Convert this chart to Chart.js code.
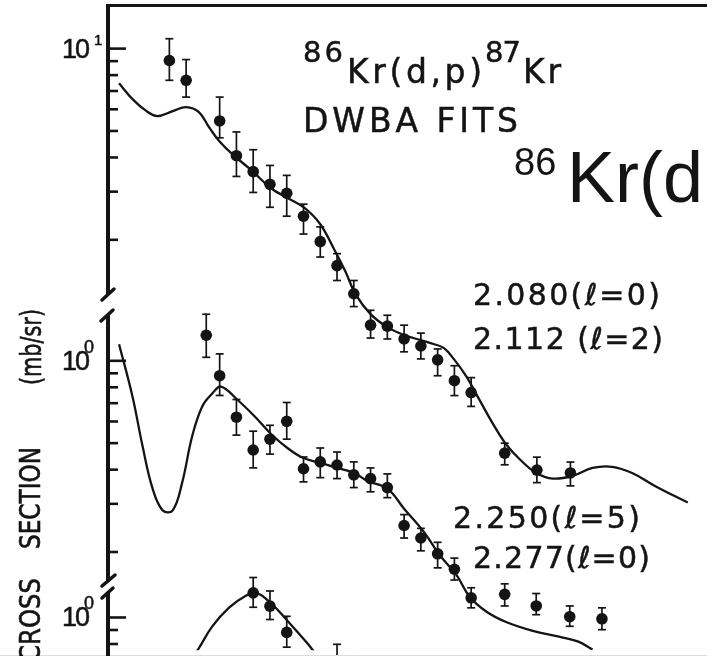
<!DOCTYPE html>
<html>
<head>
<meta charset="utf-8">
<title>86Kr(d,p)87Kr DWBA fits</title>
<script src="https://cdn.jsdelivr.net/npm/chart.js@4.4.1/dist/chart.umd.min.js"></script>
<style>
  html, body { margin: 0; padding: 0; background: #fff; overflow: hidden; }
  canvas { display: block; }
</style>
</head>
<body>
<canvas id="chart" width="707" height="656"></canvas>
<script>
// ---- Data: c.m. angle (deg) and cross section (mb/sr) ----

// 2.080 (l=0) + 2.112 (l=2) doublet
const angA   = [7.5, 10, 15, 17.5, 20, 22.5, 25, 27.5, 30, 32.5, 35, 37.5, 40, 42.5, 45, 47.5, 50, 52.5, 57.5, 62.3, 67.3];
const sigA   = [9.05, 7.66, 5.44, 4.06, 3.55, 3.19, 2.96, 2.44, 1.97, 1.61, 1.27, 0.975, 0.967, 0.868, 0.818, 0.728, 0.611, 0.553, 0.332, 0.288, 0.281];
const sigALo = [7.66, 6.65, 4.72, 3.41, 2.98, 2.63, 2.44, 2.10, 1.73, 1.42, 1.14, 0.875, 0.868, 0.779, 0.734, 0.637, 0.539, 0.492, 0.301, 0.259, 0.252];
const sigAHi = [10.87, 9.12, 6.65, 4.96, 4.27, 3.74, 3.44, 2.70, 2.23, 1.78, 1.42, 1.105, 1.06, 0.975, 0.912, 0.798, 0.693, 0.627, 0.361, 0.321, 0.308];
const fitAngA = [0, 2.0, 4.1, 5.7, 8.0, 10.0, 11.9, 13.4, 14.9, 16.8, 19.8, 22.7, 25.2, 27.7, 30.0, 32.2, 33.7, 35.3, 37.5, 40.0, 42.5, 44.9, 46.9, 48.4, 49.9, 51.8, 53.7, 55.8, 57.7, 59.7, 62.2, 64.7, 67.6, 70.6, 73.5, 76.5, 79.9, 84.8];
const fitA    = [7.47, 6.54, 5.91, 5.67, 5.91, 6.11, 5.86, 5.17, 4.60, 4.13, 3.58, 3.08, 2.84, 2.61, 2.28, 1.82, 1.54, 1.26, 1.07, 0.959, 0.897, 0.861, 0.832, 0.805, 0.734, 0.632, 0.522, 0.423, 0.358, 0.316, 0.281, 0.268, 0.274, 0.293, 0.296, 0.281, 0.252, 0.219];

// 2.250 (l=5) + 2.277 (l=0) doublet
const angB   = [13.0, 15, 17.5, 20, 22.5, 25, 27.5, 30, 32.5, 35, 37.5, 40, 42.5, 45, 47.5, 50, 52.5, 57.5, 62.2, 67.2, 72.0];
const sigB   = [1.24, 0.882, 0.622, 0.472, 0.517, 0.601, 0.403, 0.427, 0.416, 0.383, 0.371, 0.344, 0.250, 0.225, 0.197, 0.173, 0.136, 0.140, 0.127, 0.116, 0.114];
const sigBLo = [1.03, 0.747, 0.535, 0.406, 0.456, 0.517, 0.361, 0.374, 0.371, 0.344, 0.332, 0.316, 0.225, 0.202, 0.175, 0.158, 0.125, 0.127, 0.118, 0.107, 0.104];
const sigBHi = [1.48, 1.06, 0.722, 0.553, 0.581, 0.704, 0.445, 0.480, 0.464, 0.427, 0.406, 0.386, 0.274, 0.244, 0.217, 0.190, 0.148, 0.153, 0.141, 0.127, 0.125];
const fitAngB = [0, 2.0, 3.5, 5.0, 6.5, 8.0, 9.4, 10.9, 12.4, 13.9, 15.2, 17.6, 20.2, 22.7, 25.1, 27.4, 30.1, 32.5, 35.0, 37.0, 40.0, 42.5, 45.5, 47.8, 50.3, 52.3, 54.8, 57.7, 61.7, 65.6, 68.5, 70.6];
const fitB    = [1.15, 0.741, 0.488, 0.341, 0.284, 0.284, 0.358, 0.530, 0.681, 0.759, 0.805, 0.722, 0.627, 0.539, 0.480, 0.442, 0.423, 0.406, 0.390, 0.364, 0.341, 0.288, 0.236, 0.195, 0.165, 0.137, 0.121, 0.111, 0.103, 0.098, 0.094, 0.088];

// lowest group
const angC   = [20, 22.5, 25, 32.5];
const sigC   = [1.23, 1.10, 0.882, 0.705];
const sigCLo = [1.09, 0.983, 0.779, 0.62];
const sigCHi = [1.40, 1.25, 1.01, 0.798];
const fitAngC = [11.5, 11.9, 13.9, 16.4, 18.9, 20.4, 22.7, 25.2, 28.2, 29.1];
const fitC    = [0.747, 0.772, 0.928, 1.087, 1.201, 1.232, 1.124, 0.967, 0.798, 0.747];

// tick values of each axis segment (the decade value gets a label)
const ticksA = [2, 3, 4, 5, 6, 7, 8, 9, 10];
const ticksB = [0.2, 0.3, 0.4, 0.5, 0.6, 0.7, 0.8, 0.9, 1];
const ticksC = [0.7, 0.8, 0.9, 1];
const tickLabels = { yA: ['10', '1'], yB: ['10', '0'], yC: ['10', '0'] };

// ---- Layout ----
const INK = '#141414';
const LETTER = '"DejaVu Sans", Verdana, sans-serif';
const PLAIN = '"Liberation Sans", Arial, Helvetica, sans-serif';
const AREA = { left: 108, top: 7, right: 707, bottom: 656 };
const DECADE = 276;               // px per decade on every log segment

// log axis range so that `value` lands at pixel `px`
function logRange(value, px) {
  const top = Math.log10(value) + (px - AREA.top) / DECADE;
  const bottom = top - (AREA.bottom - AREA.top) / DECADE;
  return { min: Math.pow(10, bottom), max: Math.pow(10, top) };
}
const rA = logRange(10, 49);
const rB = logRange(1, 364);
const rC = logRange(1, 623);

const pts = (xs, ys) => xs.map((x, i) => ({ x, y: ys[i] }));

function points(xs, ys, axis) {
  return {
    data: pts(xs, ys), yAxisID: axis, showLine: false,
    pointRadius: 5.8, pointBackgroundColor: INK, pointBorderWidth: 0, borderColor: INK
  };
}
function curve(xs, ys, axis) {
  return {
    data: pts(xs, ys), yAxisID: axis, showLine: true, pointRadius: 0,
    borderColor: INK, borderWidth: 2.3, tension: 0.4, fill: false
  };
}

// lettering: letters spread to a given width, slightly heavier stroke
function spaced(ctx, str, x, base, size, width, family) {
  ctx.save();
  ctx.fillStyle = INK; ctx.strokeStyle = INK;
  ctx.font = size + 'px ' + (family || LETTER);
  ctx.letterSpacing = '0px';
  const n = [...str].length;
  const w = ctx.measureText(str).width;
  const sp = n > 1 && width ? (width - w) / (n - 1) : 0;
  ctx.letterSpacing = sp.toFixed(2) + 'px';
  ctx.fillText(str, x, base);
  ctx.lineWidth = 0.5;
  ctx.strokeText(str, x, base);
  ctx.restore();
}
// rotated word fitted to a given length (reads bottom to top)
function vertical(ctx, str, x, yStart, size, len) {
  ctx.save();
  ctx.fillStyle = INK; ctx.strokeStyle = INK;
  ctx.font = size + 'px ' + LETTER;
  const w = ctx.measureText(str).width;
  ctx.translate(x, yStart);
  ctx.rotate(-Math.PI / 2);
  ctx.scale(len / w, 1);
  ctx.fillText(str, 0, 0);
  ctx.lineWidth = 0.6;
  ctx.strokeText(str, 0, 0);
  ctx.restore();
}
function seg(ctx, x1, y1, x2, y2) {
  ctx.beginPath(); ctx.moveTo(x1, y1); ctx.lineTo(x2, y2); ctx.stroke();
}

const errorBars = {
  id: 'errorBars',
  beforeDatasetsDraw(chart) {
    const ctx = chart.ctx, xs = chart.scales.x;
    const sets = [[angA, sigALo, sigAHi, 'yA'], [angB, sigBLo, sigBHi, 'yB'], [angC, sigCLo, sigCHi, 'yC']];
    ctx.save();
    ctx.strokeStyle = INK; ctx.lineWidth = 1.7;
    for (const [a, lo, hi, id] of sets) {
      const ys = chart.scales[id];
      a.forEach((ang, i) => {
        const px = xs.getPixelForValue(ang);
        const y1 = ys.getPixelForValue(lo[i]), y2 = ys.getPixelForValue(hi[i]);
        seg(ctx, px, y1, px, y2);
        seg(ctx, px - 4, y1, px + 4, y1);
        seg(ctx, px - 4, y2, px + 4, y2);
      });
    }
    ctx.restore();
  }
};

const frame = {
  id: 'frame',
  beforeDatasetsDraw(chart) {
    const ctx = chart.ctx;
    ctx.save();
    // faint page edge at the bottom
    ctx.strokeStyle = '#dcdcdc'; ctx.lineWidth = 1;
    seg(ctx, 0, 655.5, 707, 655.5);
    ctx.strokeStyle = INK;
    // top frame line
    ctx.lineWidth = 3;
    seg(ctx, 106, 5.5, 707, 5.5);
    // broken ordinate
    ctx.lineWidth = 4;
    seg(ctx, 108, 4, 108, 294);
    seg(ctx, 108, 315, 108, 582);
    seg(ctx, 108, 593, 108, 660);
    ctx.lineCap = 'round'; ctx.lineWidth = 3.5;
    seg(ctx, 114, 289, 102, 300);
    seg(ctx, 113, 310, 101, 321);
    seg(ctx, 115, 575, 102, 586);
    seg(ctx, 113, 588, 102, 598);
    ctx.lineCap = 'butt';
    // ticks on each segment
    const groups = [['yA', ticksA], ['yB', ticksB], ['yC', ticksC]];
    for (const [id, vals] of groups) {
      const s = chart.scales[id];
      vals.forEach((v, i) => {
        const y = s.getPixelForValue(v);
        const major = i === vals.length - 1;
        ctx.strokeStyle = INK; ctx.lineWidth = 2.6;
        seg(ctx, 108, y, 108 + (major ? 18 : 10), y);
        if (major) {
          const [base, exp] = tickLabels[id];
          spaced(ctx, base, 62, y + 9, 27, 28, PLAIN);
          if (id === 'yA') spaced(ctx, exp, 94, y - 4, 15, 0, PLAIN);
          else spaced(ctx, exp, 84, y - 8, 18, 0, PLAIN);
        }
      });
    }
    ctx.restore();
  },
  afterDraw(chart) {
    const ctx = chart.ctx;
    ctx.save();
    ctx.fillStyle = INK; ctx.strokeStyle = INK;
    ctx.textBaseline = 'alphabetic';
    // heading
    spaced(ctx, '86', 303, 62, 29, 40);
    spaced(ctx, 'Kr(d,p)', 347, 83, 33, 135);
    spaced(ctx, '87', 485, 62, 29, 36);
    spaced(ctx, 'Kr', 523, 83, 33, 38);
    spaced(ctx, 'DWBA FITS', 303, 132, 33, 215);
    // level labels
    spaced(ctx, '2.080(ℓ=0)', 473, 305, 30, 187);
    spaced(ctx, '2.112 (ℓ=2)', 473, 349, 30, 190);
    spaced(ctx, '2.250(ℓ=5)', 453, 528, 30, 187);
    spaced(ctx, '2.277(ℓ=0)', 473, 568, 30, 177);
    // ordinate title
    vertical(ctx, 'CROSS', 40, 662, 28, 84);
    vertical(ctx, 'SECTION', 40, 549, 28, 102);
    vertical(ctx, '(mb/sr)', 41, 385, 28, 76);
    // large reaction label
    ctx.font = '38px ' + PLAIN;
    ctx.fillText('86', 514, 175);
    ctx.font = '72px ' + PLAIN;
    ctx.fillText('Kr(d,p)', 567, 202);
    let x = 567 + ctx.measureText('Kr(d,p)').width;
    ctx.font = '38px ' + PLAIN;
    ctx.fillText('87', x, 175);
    x += ctx.measureText('87').width;
    ctx.font = '72px ' + PLAIN;
    ctx.fillText('Kr', x, 202);
    ctx.restore();
  }
};

const logAxis = r => ({ type: 'logarithmic', display: false, min: r.min, max: r.max, bounds: 'data' });

new Chart(document.getElementById('chart'), {
  type: 'line',
  data: {
    datasets: [
      curve(fitAngA, fitA, 'yA'), points(angA, sigA, 'yA'),
      curve(fitAngB, fitB, 'yB'), points(angB, sigB, 'yB'),
      curve(fitAngC, fitC, 'yC'), points(angC, sigC, 'yC')
    ]
  },
  options: {
    responsive: false,
    animation: false,
    devicePixelRatio: 1,
    events: [],
    layout: { padding: { left: AREA.left, top: AREA.top, right: 0, bottom: 0 } },
    scales: {
      x: { type: 'linear', display: false, min: -1.65, max: 86.8 },
      yA: logAxis(rA),
      yB: logAxis(rB),
      yC: logAxis(rC)
    },
    plugins: { legend: { display: false }, tooltip: { enabled: false }, title: { display: false } }
  },
  plugins: [errorBars, frame]
});
</script>
</body>
</html>
